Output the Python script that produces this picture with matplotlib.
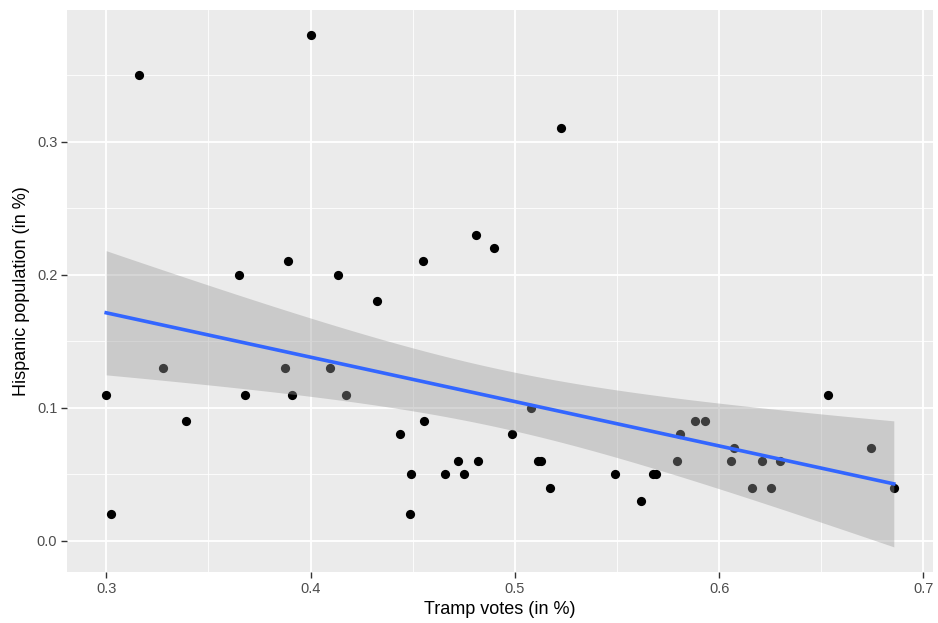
import numpy as np
import matplotlib
matplotlib.use("Agg")
import matplotlib.pyplot as plt
from matplotlib.ticker import MultipleLocator

plt.rcParams["font.family"] = ["Liberation Sans", "DejaVu Sans"]

# share of Trump votes per state and hispanic population share
tramp_votes = [
    0.300, 0.3025, 0.316, 0.328, 0.339, 0.365, 0.368, 0.3875, 0.389, 0.391,
    0.400, 0.4095, 0.4135, 0.4175, 0.4325, 0.444, 0.449, 0.4485, 0.455, 0.4555,
    0.466, 0.472, 0.475, 0.481, 0.482, 0.490, 0.4985, 0.508, 0.5115, 0.513,
    0.517, 0.5225, 0.549, 0.562, 0.5675, 0.569, 0.5795, 0.581, 0.588, 0.593,
    0.606, 0.6075, 0.616, 0.621, 0.6255, 0.630, 0.6535, 0.6745, 0.6855,
]
hispanic_pop = [
    0.11, 0.02, 0.35, 0.13, 0.09, 0.20, 0.11, 0.13, 0.21, 0.11,
    0.38, 0.13, 0.20, 0.11, 0.18, 0.08, 0.05, 0.02, 0.21, 0.09,
    0.05, 0.06, 0.05, 0.23, 0.06, 0.22, 0.08, 0.10, 0.06, 0.06,
    0.04, 0.31, 0.05, 0.03, 0.05, 0.05, 0.06, 0.08, 0.09, 0.09,
    0.06, 0.07, 0.04, 0.06, 0.04, 0.06, 0.11, 0.07, 0.04,
]
x_ticks = [0.3, 0.4, 0.5, 0.6, 0.7]
y_ticks = [0.0, 0.1, 0.2, 0.3]
T_975 = 2.012  # t quantile for ~47 degrees of freedom

x = np.array(tramp_votes)
y = np.array(hispanic_pop)

# linear fit + 95% confidence band (like geom_smooth(method="lm"))
n = len(x)
slope, intercept = np.polyfit(x, y, 1)
resid = y - (slope * x + intercept)
s = np.sqrt(np.sum(resid ** 2) / (n - 2))
xs = np.linspace(x.min(), x.max(), 80)
fit = slope * xs + intercept
se = s * np.sqrt(1 / n + (xs - x.mean()) ** 2 / np.sum((x - x.mean()) ** 2))
lo, hi = fit - T_975 * se, fit + T_975 * se

fig = plt.figure(figsize=(9.38, 6.23), dpi=100)
ax = fig.add_axes([0.0714, 0.082, 0.9233, 0.902])
ax.set_facecolor("#EBEBEB")

ax.scatter(x, y, s=44, color="black", zorder=3, linewidths=0)
ax.fill_between(xs, lo, hi, color="#999999", alpha=0.4, linewidth=0, zorder=4)
ax.plot(xs, fit, color="#3366FF", linewidth=2.6, zorder=5)

ax.set_xlim(0.2808, 0.7047)
ax.set_ylim(-0.0233, 0.399)
ax.xaxis.set_minor_locator(MultipleLocator(0.05))
ax.yaxis.set_minor_locator(MultipleLocator(0.05))
ax.set_xticks(x_ticks)
ax.set_yticks(y_ticks)
ax.set_xticklabels([f"{v:.1f}" for v in x_ticks])
ax.set_yticklabels([f"{v:.1f}" for v in y_ticks])

ax.grid(which="major", color="white", linewidth=1.3, zorder=0)
ax.grid(which="minor", color="white", linewidth=0.6, zorder=0)
ax.set_axisbelow(True)
for sp in ax.spines.values():
    sp.set_visible(False)

ax.tick_params(which="major", length=4, width=1, color="#333333",
               labelsize=10.5, labelcolor="#4D4D4D", pad=3)
ax.tick_params(which="minor", length=0)

ax.set_xlabel("Tramp votes (in %)", fontsize=13, color="black", labelpad=4)
ax.set_ylabel("Hispanic population (in %)", fontsize=13, color="black", labelpad=5)

plt.savefig("out.png", dpi=100)
plt.close()
